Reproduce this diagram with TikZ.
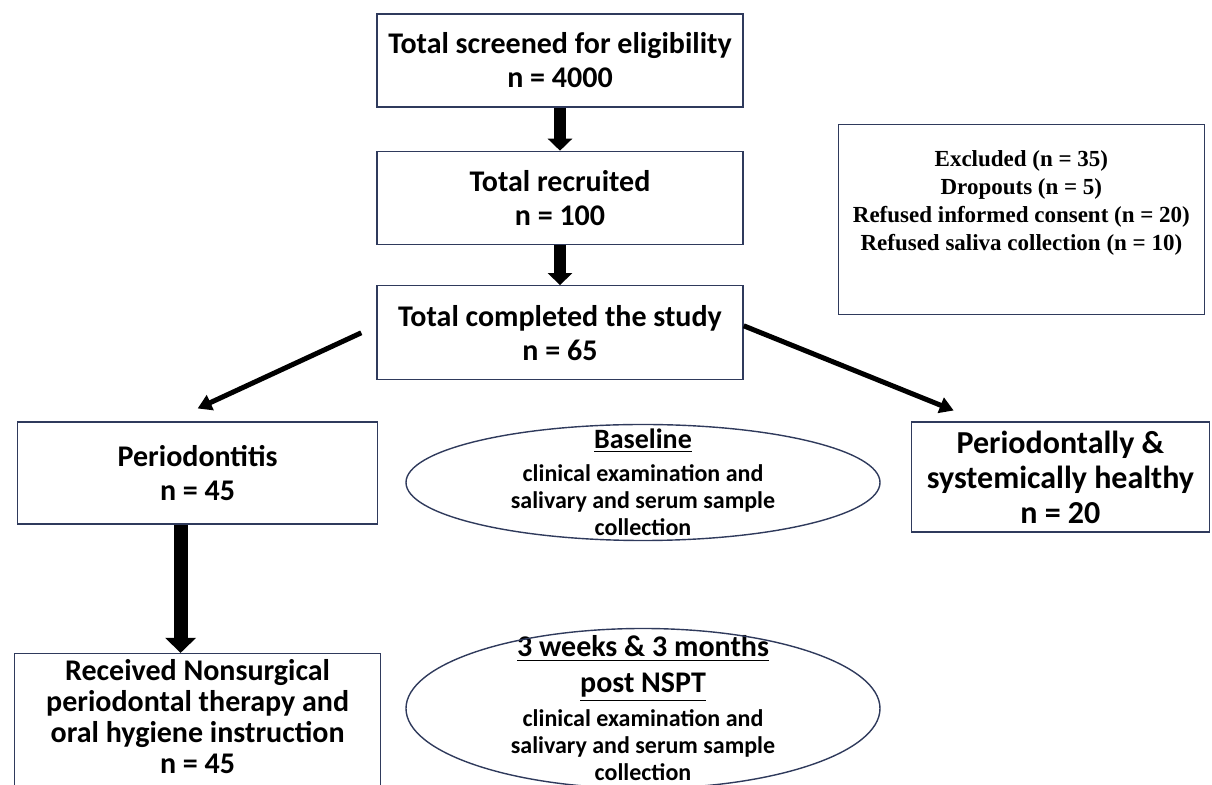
\documentclass[tikz,border=0pt]{standalone}
\usepackage{fontspec}
\setmainfont{Carlito}
\newfontfamily\timesfont{Liberation Serif}
\definecolor{boxLine}{RGB}{47,58,92}
\usepackage{tikz}
\usetikzlibrary{positioning, calc, arrows.meta}

\begin{document}
\begin{tikzpicture}[
      x=1pt, y=1pt,
      block/.style={rectangle, draw=boxLine, line width=0.7pt, align=center, inner sep=2pt,
        minimum width=183pt, minimum height=46.5pt, font=\fontsize{15pt}{17pt}\selectfont\bfseries},
      note/.style={block, inner ysep=0pt, text height=63pt, text depth=32pt,
        font=\fontsize{11.5pt}{14pt}\selectfont\timesfont\bfseries},
      ovaltext/.style={align=center, inner sep=0pt, font=\fontsize{12pt}{13.5pt}\selectfont\bfseries},
      oval/.style={draw=boxLine, line width=0.7pt},
      arrow/.style={-{Triangle[width=8pt, length=7pt]}, line width=2.5pt, black},
      fatarrow/.style={-{Triangle[width=12pt, length=6pt]}, line width=6pt, black}
    ]
      \clip (0,0) rectangle (606,-392.5);

      % main chain
      \node[block] (screen) at (280,-30.25) {Total screened for eligibility\\n = 4000};
      \node[block, below=21.5pt of screen] (recruited) {Total recruited\\n = 100};
      \node[block, below=20pt of recruited, minimum height=47pt] (done) {Total completed the study\\n = 65};
      \node[note, minimum width=183pt, below right=8pt and 47pt of screen.south east] (excl)
        {Excluded (n = 35)\\Dropouts (n = 5)\\Refused informed consent (n = 20)\\Refused saliva collection (n = 10)};

      % groups
      \node[block, minimum width=180pt, minimum height=51pt, below left=20.5pt and -1pt of done.south west] (perio)
        {Periodontitis\\n = 45};
      \node[block, minimum width=149pt, minimum height=55pt, font=\fontsize{16pt}{17.5pt}\selectfont\bfseries,
        below right=20.5pt and 83.5pt of done.south east] (healthy)
        {Periodontally \&\\systemically healthy\\n = 20};
      \node[block, minimum width=183pt, minimum height=0pt, inner ysep=0pt, text height=60pt, text depth=16pt,
        font=\fontsize{15pt}{15.5pt}\selectfont\bfseries, below=64pt of perio] (nspt)
        {Received Nonsurgical\\periodontal therapy and\\oral hygiene instruction\\n = 45};

      % time points
      \node[ovaltext] (base) at ($(done.south)+(41.5,-51)$)
        {{\fontsize{14pt}{16pt}\selectfont\underline{Baseline}}\\[3pt]clinical examination and\\salivary and serum sample\\collection};
      \node[ovaltext] (post) at ($(base)+(0,-113)$)
        {{\fontsize{15pt}{18pt}\selectfont\underline{3 weeks \& 3 months}}\\[4.5pt]
         {\fontsize{15pt}{18pt}\selectfont\underline{post NSPT}}\\[3.5pt]clinical examination and\\salivary and serum sample\\collection};
      \draw[oval] (base.center) ellipse [x radius=118.5, y radius=29];
      \draw[oval] (post.center) ellipse [x radius=118.5, y radius=40];

      \draw[fatarrow] (screen) -- (recruited);
      \draw[fatarrow] (recruited) -- (done);
      \draw[arrow] ([xshift=-7.5pt]done.west) -- ([yshift=6.5pt]perio.north);
      \draw[arrow] ([yshift=3.5pt]done.east) -- ([shift={(21.5pt,5.5pt)}]healthy.north west);
      \draw[fatarrow, line width=7pt, -{Triangle[width=15pt, length=7.5pt]}]
        ([xshift=-8.5pt]perio.south) -- ([xshift=-8.5pt]perio.south |- nspt.north);
    \end{tikzpicture}
\end{document}
